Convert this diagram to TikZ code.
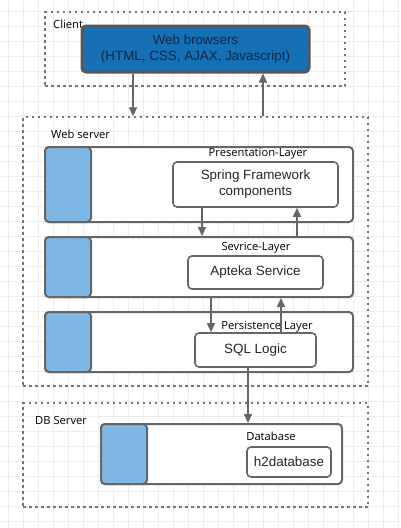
\documentclass[tikz,border=0pt]{standalone}
\usepackage{fontspec}
\setmainfont{Liberation Sans}
\newfontfamily\labelfont{Open Sans}
\usetikzlibrary{arrows.meta}
\definecolor{edgegray}{HTML}{666666}
\definecolor{stripblue}{HTML}{7EB6E4}
\definecolor{browserblue}{HTML}{1670B6}
\definecolor{browsertext}{HTML}{0F2747}
\definecolor{gridgray}{HTML}{EDEDED}

\begin{document}
\begin{tikzpicture}[x=1pt,y=-1pt,
  zone/.style={draw=edgegray!90,line width=1.3pt,dash pattern=on 2.5pt off 3.5pt,minimum width=#1},
  layer/.style={draw=edgegray,line width=2pt,rounded corners=4pt,fill=white,inner sep=0pt},
  strip/.style={draw=edgegray,line width=2pt,rounded corners=4pt,fill=stripblue,minimum width=46pt,inner sep=0pt},
  item/.style={draw=edgegray,line width=1.6pt,rounded corners=4pt,fill=white,align=center,
    text=black!85,font=\fontsize{13.4}{16}\selectfont,inner sep=0pt},
  tag/.style={font=\labelfont\fontsize{11.2}{13}\selectfont,inner sep=0pt},
  arr/.style={draw=edgegray,line width=1.6pt,-{Triangle[length=9pt,width=8pt]}}]
  \useasboundingbox (0,0) rectangle (400,528);
  % background grid
  \foreach \gx in {8,23,...,398} \draw[gridgray,line width=0.6pt] (\gx,0) -- (\gx,528);
  \foreach \gy in {11,26,...,527} \draw[gridgray,line width=0.6pt] (0,\gy) -- (400,\gy);

  % client
  \node[zone=300pt,minimum height=74pt] (client) at (195,49) {};
  \node[tag,anchor=west] (clientlbl) at (53,24) {Client};
  \node[draw=edgegray!85!black,line width=3pt,rounded corners=4pt,fill=browserblue,text=browsertext,
    minimum width=227pt,minimum height=46pt,align=center,font=\fontsize{13.4}{16}\selectfont]
    (browser) at (195.5,49) {Web browsers\\(HTML, CSS, AJAX, Javascript)};

  % web server
  \node[zone=345pt,minimum height=269pt] (webserver) at (195.5,251.5) {};
  \node[tag,anchor=west] (weblbl) at (51,134) {Web server};

  \node[layer,minimum width=308pt,minimum height=75pt] (pres) at (199,184.5) {};
  \node[strip,minimum height=75pt] (presstrip) at (68,184.5) {};
  \node[tag] (preslbl) at (258,154) {Presentation-Layer};
  \node[item,minimum width=165pt,minimum height=45pt] (spring) at (255.5,184.5) {Spring Framework\\components};

  \node[layer,minimum width=308pt,minimum height=60pt] (service) at (199,267) {};
  \node[strip,minimum height=60pt] (servicestrip) at (68,267) {};
  \node[tag] (servicelbl) at (256,248) {Sevrice-Layer};
  \node[item,minimum width=135pt,minimum height=33pt] (apteka) at (255.5,272.5) {Apteka Service};

  \node[layer,minimum width=308pt,minimum height=60pt] (persist) at (199,342) {};
  \node[strip,minimum height=60pt] (persiststrip) at (68,342) {};
  \node[tag] (persistlbl) at (267,327) {Persistence Layer};
  \node[item,minimum width=121pt,minimum height=34pt] (sql) at (255.5,350) {SQL Logic};

  % db server
  \node[zone=345pt,minimum height=104pt] (dbserver) at (195.5,455) {};
  \node[tag,anchor=west] (dblbl) at (35,420) {DB Server};
  \node[layer,minimum width=241pt,minimum height=60pt] (database) at (221.5,454) {};
  \node[strip,minimum height=60pt] (dbstrip) at (124,454) {};
  \node[tag] (databaselbl) at (271,436) {Database};
  \node[item,minimum width=84pt,minimum height=30pt] (h2) at (289,462) {h2database};

  % connectors
  \draw[arr] ([xshift=-62.5pt]browser.south) -- ([xshift=-62.5pt]browser.south |- webserver.north);
  \draw[arr] ([xshift=67.5pt]browser.south |- webserver.north) -- ([xshift=67.5pt]browser.south);
  \draw[arr] ([xshift=-53.5pt]spring.south) -- ([xshift=-53.5pt]spring.south |- service.north);
  \draw[arr] ([xshift=41.5pt]spring.south |- service.north) -- ([xshift=41.5pt]spring.south);
  \draw[arr] ([xshift=-44.5pt]sql.north |- service.south) -- ([xshift=-44.5pt]sql.north);
  \draw[arr] ([xshift=25.5pt]sql.north) -- ([xshift=25.5pt]sql.north |- service.south);
  \draw[arr] ([xshift=-7.5pt]sql.south) -- ([xshift=-7.5pt]sql.south |- database.north);
\end{tikzpicture}
\end{document}
